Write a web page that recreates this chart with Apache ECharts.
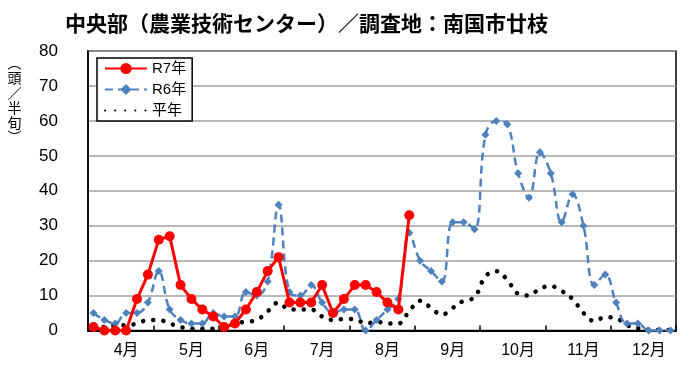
<!DOCTYPE html>
<html>
<head>
<meta charset="utf-8">
<script src="https://cdn.jsdelivr.net/npm/echarts@6/dist/echarts.min.js"></script>
<style>
html,body{margin:0;padding:0;background:#fff;}
#c{width:700px;height:383px;}
</style>
</head>
<body>
<div id="c"></div>
<script>
// Month tick labels (each month has 6 half-decades = 半旬)
const months = ['4月','5月','6月','7月','8月','9月','10月','11月','12月'];
const halvesPerMonth = 6;

// R7年 (this year) — observed up to early August
const r7 = [1,0,0,0,9,16,26,27,13,9,6,4,1,2,6,11,17,21,8,8,8,13,5,9,13,13,11,8,6,33];

// R6年 (last year)
const r6 = [5,3,2,5,5,8,17,6,3,2,2,5,4,4,11,10,14,36,11,10,13,8,5,6,6,0,3,6,9,28,
            20,17,14,31,31,29,56,60,59,45,38,51,45,31,39,30,13,16,8,2,2,0,0,0];

// 平年 (normal year)
const avg = [1,1,1.5,1.5,2,3,3,2,1,0.5,0.5,0.5,1,2,2.5,3,5.5,8,6,6,6,4,3,3.3,3.3,2,2.5,2,2,5.5,
             8.5,6.5,4.5,6.5,8.5,9.5,15.5,17,14.5,10.5,10,12,12.7,11.3,9,5,2.7,3.8,3.5,1.5,0.7,0.3,0.2,0.1];

const yTicks = {min:0, max:80, interval:10};

// Y-axis unit label, written vertically (vertical-form parentheses)
const yNameChars = ['︵','頭','／','半','旬','︶'];

const categories = [];
months.forEach(m => { for (let k = 1; k <= halvesPerMonth; k++) categories.push(m + k); });

const latin = "'Liberation Sans', Arial, 'Noto Sans CJK JP', sans-serif";
const cjk = "'Noto Sans CJK JP', sans-serif";

const yNameEls = yNameChars.map((ch, i) => ({
  type:'text',
  x:14.5, y:63 + i * 14.8,
  style:{text:ch, font:"14px 'Noto Sans CJK JP'", fill:'#000', align:'center', verticalAlign:'middle'}
}));

const chart = echarts.init(document.getElementById('c'), null, {renderer:'canvas'});
chart.setOption({
  animation:false,
  backgroundColor:'#fff',
  title:{
    text:'中央部（農業技術センター）／調査地：南国市廿枝',
    left:60, top:8,
    textStyle:{fontFamily:cjk, fontSize:21, fontWeight:'bold', color:'#000'}
  },
  graphic:yNameEls,
  legend:{
    data:['R7年','R6年',{name:'平年', itemStyle:{opacity:0}}],
    orient:'vertical',
    left:97, top:58,
    backgroundColor:'#fff',
    borderColor:'#000', borderWidth:1.5,
    padding:[3,6,3,7],
    itemWidth:42, itemHeight:14, itemGap:6,
    textStyle:{fontFamily:latin, fontSize:15, color:'#000'}
  },
  grid:{left:88, right:24, top:51, bottom:52.5, show:true, borderColor:'#000', borderWidth:1.5, backgroundColor:'transparent'},
  xAxis:{
    type:'category',
    data:categories,
    boundaryGap:true,
    axisLine:{lineStyle:{color:'#000', width:2}},
    axisTick:{show:true, inside:true, length:5, interval:(i)=> i % halvesPerMonth === 0, lineStyle:{color:'#000', width:1.5}},
    axisLabel:{
      interval:(i)=> i % halvesPerMonth === 3,
      formatter:(v, i)=> months[Math.floor(i / halvesPerMonth)],
      margin:12, fontFamily:latin, fontSize:16, color:'#000'
    },
    splitLine:{show:false}
  },
  yAxis:{
    type:'value', min:yTicks.min, max:yTicks.max, interval:yTicks.interval,
    axisLine:{show:true, lineStyle:{color:'#000', width:1.5}},
    axisTick:{show:false},
    axisLabel:{margin:30, fontFamily:latin, fontSize:17, color:'#000'},
    splitLine:{lineStyle:{color:'#a0a0a0', width:1.5}}
  },
  series:[
    {
      name:'平年', type:'line', data:avg, smooth:0.4,
      symbol:'none',
      lineStyle:{color:'#000', width:4.5, type:[0.1,10], cap:'round'},
      itemStyle:{color:'#000'},
      z:2
    },
    {
      name:'R6年', type:'line', data:r6, smooth:0.4,
      symbol:'diamond', symbolSize:8, showSymbol:true, showAllSymbol:true,
      lineStyle:{color:'#4F81BD', width:2.5, type:[8,5]},
      itemStyle:{color:'#4F81BD'},
      z:3
    },
    {
      name:'R7年', type:'line', data:r7, smooth:false,
      symbol:'circle', symbolSize:10, showAllSymbol:true,
      lineStyle:{color:'#FF0000', width:3},
      itemStyle:{color:'#FF0000'},
      z:4
    }
  ]
});
</script>
</body>
</html>
